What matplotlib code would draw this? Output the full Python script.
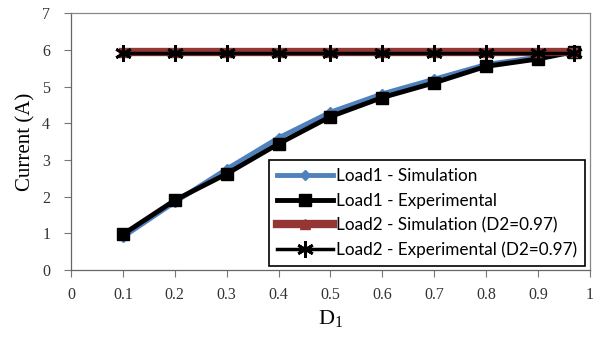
import numpy as np
import matplotlib
matplotlib.use("Agg")
import matplotlib.pyplot as plt

plt.rcParams["font.family"] = "Liberation Serif"
plt.rcParams["mathtext.fontset"] = "custom"
plt.rcParams["mathtext.rm"] = "Liberation Serif"
plt.rcParams["mathtext.it"] = "Liberation Serif:italic"

# duty cycle values
d1 = [0.1, 0.2, 0.3, 0.4, 0.5, 0.6, 0.7, 0.8, 0.9, 0.97]

load1_sim = [0.9, 1.85, 2.75, 3.6, 4.3, 4.8, 5.2, 5.6, 5.8, 5.95]
load1_exp = [0.97, 1.9, 2.62, 3.44, 4.18, 4.7, 5.1, 5.55, 5.75, 5.95]
load2_sim = [5.95, 5.95, 5.95, 5.95, 5.95, 5.95, 5.95, 5.95, 5.95, 5.95]
load2_exp = [5.92, 5.92, 5.92, 5.92, 5.92, 5.92, 5.92, 5.92, 5.92, 5.92]

labels = ["Load1 - Simulation", "Load1 - Experimental",
          "Load2 - Simulation (D2=0.97)", "Load2 - Experimental (D2=0.97)"]
xlabels = ["0", "0.1", "0.2", "0.3", "0.4", "0.5", "0.6", "0.7", "0.8", "0.9", "1"]

fig = plt.figure(figsize=(5.97, 3.37), dpi=100)
ax = fig.add_axes([0.119, 0.199, 0.869, 0.762])

ax.plot(d1, load1_sim, color="#4f81bd", lw=3.5, marker="D", ms=5, label=labels[0])
ax.plot(d1, load1_exp, color="black", lw=3.5, marker="s", ms=8, label=labels[1])
ax.plot(d1, load2_sim, color="#943634", lw=6, marker="^", ms=7, label=labels[2])
ax.plot(d1, load2_exp, color="black", lw=2.5, marker=(6, 2, 0), ms=12, mew=2,
        label=labels[3])

ax.set_xlim(0, 1)
ax.set_ylim(0, 7)
ax.set_xticks(np.arange(0, 1.01, 0.1))
ax.set_xticklabels(xlabels)
ax.set_yticks(range(0, 8))

ax.tick_params(direction="out", length=5, width=0.8, color="#777777",
               labelsize=11.5, labelcolor="#333333")
ax.tick_params(axis="x", pad=7)
ax.tick_params(axis="y", pad=10)
for s in ax.spines.values():
    s.set_color("#888888")
    s.set_linewidth(0.9)
ax.spines["left"].set_color("#666666")
ax.spines["bottom"].set_color("#666666")

ax.set_xlabel("D$_1$", fontsize=16, labelpad=4)
ax.set_ylabel("Current (A)", fontsize=15, labelpad=5)

leg = ax.legend(loc="lower right", bbox_to_anchor=(0.99, 0.015), fancybox=False,
                framealpha=1, edgecolor="black", prop={"family": "Lato", "size": 12.3},
                handlelength=3.3, handletextpad=0.15, borderpad=0.45, labelspacing=0.5,
                borderaxespad=0)
leg.get_frame().set_linewidth(1.2)

fig.savefig("out.png", dpi=100)
